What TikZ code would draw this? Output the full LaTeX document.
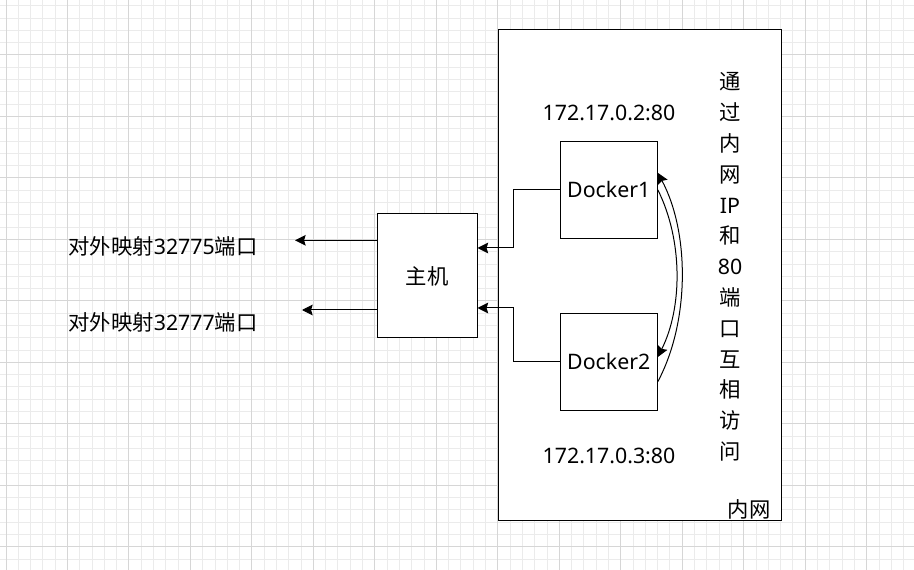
\documentclass[tikz,border=0pt]{standalone}
\usepackage{fontspec}
\setmainfont{Noto Sans}
\newfontfamily\cjk{Noto Sans CJK SC}
\usepackage{tikz}
\usetikzlibrary{arrows.meta}

\definecolor{gridminor}{HTML}{EBEBEB}
\definecolor{gridmajor}{HTML}{D6D6D6}

\begin{document}
\begin{tikzpicture}[x=0.75pt,y=-0.75pt,font=\fontsize{16pt}{18pt}\selectfont]
\useasboundingbox (0,0) rectangle (914,570);
% background grid
\begin{scope}[line width=0.75pt]
    \foreach \i in {0,...,73}
        \draw[gridminor] ({6+12.296*\i},0) -- ({6+12.296*\i},570);
    \foreach \j in {1,...,46}
        \draw[gridminor] (0,{-6.5+12.296*\j}) -- (914,{-6.5+12.296*\j});
    \foreach \i in {0,...,14}
        \draw[gridmajor] ({6+61.48*\i},0) -- ({6+61.48*\i},570);
    \foreach \j in {1,...,9}
        \draw[gridmajor] (0,{-6.5+61.48*\j}) -- (914,{-6.5+61.48*\j});
\end{scope}
\begin{scope}[every node/.style={draw,fill=white,line width=0.75pt}]
    \node[minimum width=212.25pt,minimum height=367.5pt] (lan) at (639.5,275) {};
    \node[minimum width=75pt,minimum height=93pt] (host) at (427,276) {\cjk 主机};
    \node[minimum size=72.75pt] (docker1) at (608.8,189.8) {Docker1};
    \node[minimum size=72.75pt] (docker2) at (608.8,361.7) {Docker2};
\end{scope}
\node (ip1) at (609,113) {172.17.0.2:80};
\node (ip2) at (609,456) {172.17.0.3:80};
\node[align=center,font=\fontsize{16pt}{23.1pt}\selectfont] (note) at (730,267)
    {{\cjk 通}\\{\cjk 过}\\{\cjk 内}\\{\cjk 网}\\IP\\{\cjk 和}\\80\\{\cjk 端}\\{\cjk 口}\\{\cjk 互}\\{\cjk 相}\\{\cjk 访}\\{\cjk 问}};
\node (lanlabel) at (749,509) {\cjk 内网};
\node (out1) at (163,246) {{\cjk 对外映射}32775{\cjk 端口}};
\node (out2) at (163,322) {{\cjk 对外映射}32777{\cjk 端口}};
\coordinate (tip1) at (295,240.3);
\coordinate (tip2) at (302,310);
\begin{scope}[>={Stealth[length=8pt,width=8pt,inset=1.2pt]},
              conn/.style={draw=black,line width=0.75pt}]
    \draw[conn,->] (host.west |- tip1) -- (tip1);
    \draw[conn,->] (host.west |- tip2) -- (tip2);
    \draw[conn,->] (docker1.west) -- ++(-46,0) |- ([yshift=21pt]host.east);
    \draw[conn,->] (docker2.west) -- ++(-46,0) |- ([yshift=-24pt]host.east);
    \draw[conn,->] ([yshift=-15pt]docker2.east) .. controls +(32,-60) and +(32,60) .. ([yshift=12.75pt]docker1.east);
    \draw[conn,->] (docker1.east) .. controls +(25,50) and +(25,-50) .. ([yshift=3.5pt]docker2.east);
\end{scope}
\end{tikzpicture}
\end{document}
